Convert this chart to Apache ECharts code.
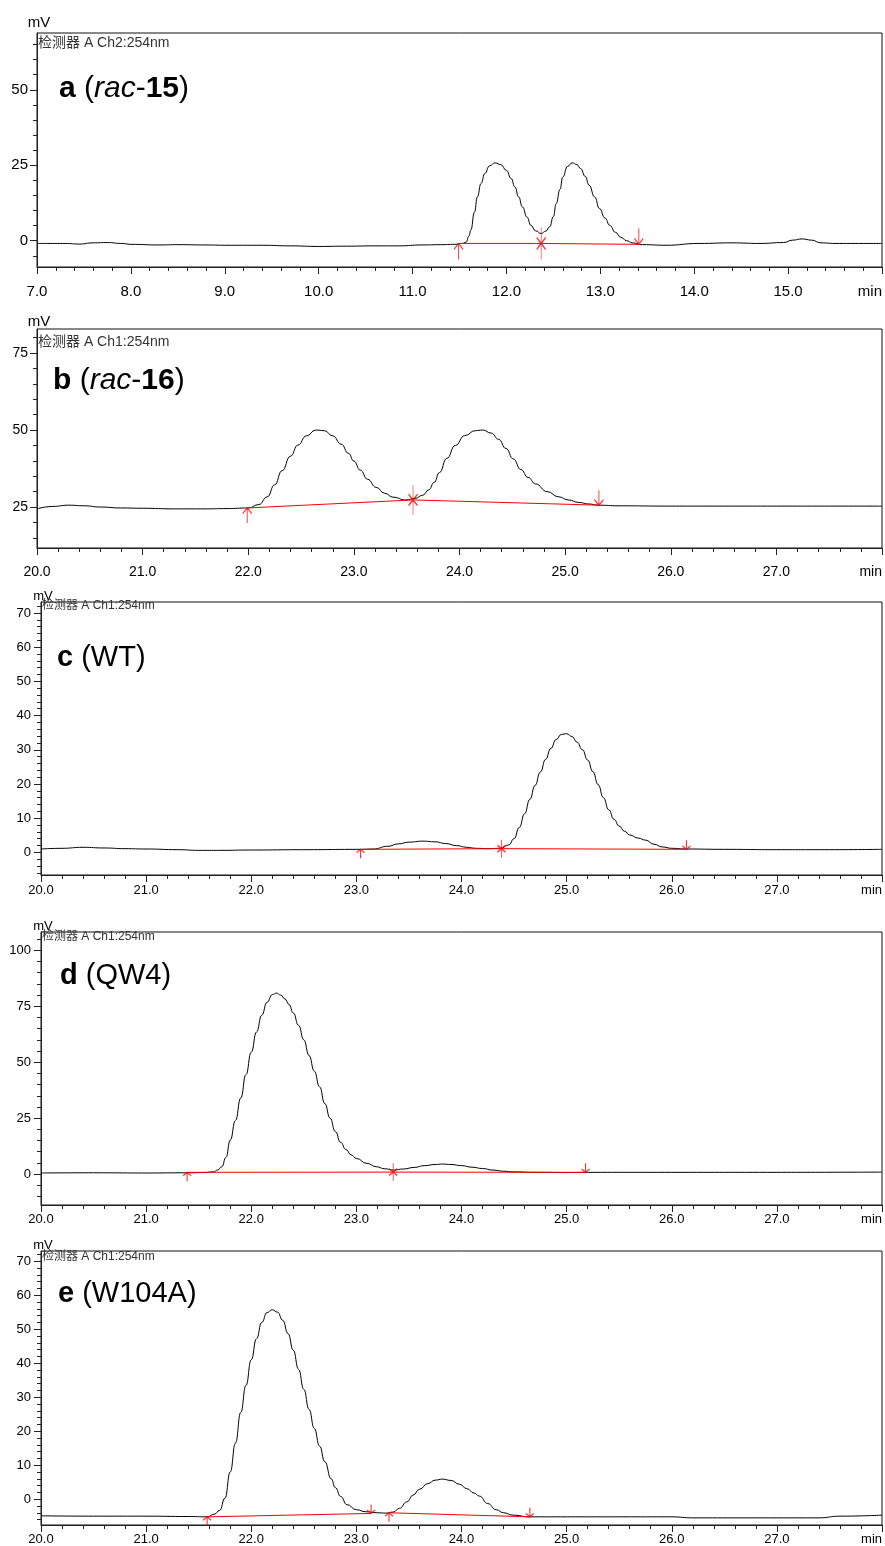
<!DOCTYPE html>
<html>
<head>
<meta charset="utf-8">
<title>HPLC chromatograms</title>
<script src="https://cdn.jsdelivr.net/npm/echarts@6/dist/echarts.min.js"></script>
<style>
  html, body { margin: 0; padding: 0; background: #fff; }
  #chart { width: 885px; height: 1546px; }
</style>
</head>
<body>
<div id="chart"></div>
<script>
// traces: [retention time (min), signal (mV)]
var traceA = [[7.0,-0.9],[7.3,-0.9],[7.45,-1.1],[7.6,-0.7],[7.75,-0.6],[7.9,-0.9],[8.0,-1.2],[8.3,-1.4],[8.5,-1.3],[8.8,-1.4],[9.0,-1.5],[9.4,-1.5],[9.7,-1.7],[10.0,-1.9],[10.3,-1.8],[10.6,-1.7],[10.86,-1.7],[11.1,-1.4],[11.3,-1.3],[11.45,-1.2],[11.53,-0.9],[11.57,-0.5],[11.6,1.5],[11.62,3.5],[11.66,9.5],[11.69,14.5],[11.73,19.0],[11.77,22.3],[11.82,24.8],[11.88,25.8],[11.94,25.2],[12.0,23.3],[12.05,20.6],[12.09,17.8],[12.13,14.5],[12.17,11.2],[12.22,7.8],[12.26,5.1],[12.31,3.3],[12.37,2.4],[12.42,3.2],[12.46,4.6],[12.5,8.0],[12.53,12.3],[12.57,17.0],[12.6,21.1],[12.65,24.6],[12.7,25.8],[12.75,25.2],[12.79,23.9],[12.84,21.3],[12.88,18.4],[12.94,14.5],[12.99,10.7],[13.05,7.5],[13.1,5.1],[13.16,2.8],[13.22,1.1],[13.28,0.0],[13.34,-0.7],[13.45,-1.3],[13.7,-1.5],[14.05,-0.9],[14.4,-0.7],[14.7,-0.9],[14.95,-0.6],[15.05,0.2],[15.15,0.6],[15.25,0.2],[15.35,-0.7],[15.5,-0.9],[15.8,-0.9],[16.0,-0.9]];
var traceB = [[20.0,24.4],[20.15,25.2],[20.3,25.6],[20.45,25.4],[20.6,25.0],[20.8,24.7],[21.0,24.6],[21.3,24.4],[21.6,24.4],[21.8,24.5],[22.0,24.7],[22.1,25.8],[22.18,28.3],[22.25,32.2],[22.32,36.8],[22.4,41.5],[22.47,45.1],[22.55,48.1],[22.64,50.0],[22.72,49.8],[22.8,48.1],[22.88,45.4],[22.95,42.4],[23.0,39.9],[23.06,37.0],[23.13,34.0],[23.21,31.4],[23.29,29.5],[23.37,28.2],[23.49,27.3],[23.58,27.8],[23.65,28.8],[23.71,30.6],[23.76,33.0],[23.81,36.2],[23.88,40.8],[23.96,45.0],[24.05,48.2],[24.15,49.8],[24.22,50.0],[24.3,49.0],[24.37,47.0],[24.44,44.0],[24.51,40.6],[24.58,37.2],[24.65,34.6],[24.72,32.5],[24.83,30.0],[24.94,28.3],[25.03,27.3],[25.13,26.5],[25.22,26.0],[25.32,25.6],[25.5,25.4],[26.0,25.3],[26.5,25.3],[27.0,25.3],[27.5,25.3],[28.0,25.3]];
var traceC = [[20.0,1.0],[20.2,1.2],[20.4,1.5],[20.6,1.3],[20.8,1.1],[21.0,1.0],[21.3,0.8],[21.5,0.6],[21.7,0.6],[22.0,0.7],[22.5,0.8],[23.05,0.9],[23.16,1.0],[23.3,1.8],[23.4,2.5],[23.5,3.0],[23.63,3.3],[23.75,3.1],[23.85,2.6],[23.95,2.0],[24.05,1.5],[24.14,1.2],[24.25,1.1],[24.37,1.2],[24.45,2.2],[24.5,4.0],[24.55,7.3],[24.6,11.3],[24.65,15.5],[24.7,19.6],[24.75,23.5],[24.8,27.2],[24.85,30.4],[24.9,33.0],[24.95,34.5],[25.0,34.7],[25.05,33.9],[25.1,32.2],[25.15,30.0],[25.2,27.0],[25.25,23.6],[25.3,19.8],[25.35,16.0],[25.4,12.5],[25.45,9.7],[25.5,7.7],[25.55,6.2],[25.6,5.1],[25.68,4.2],[25.75,3.6],[25.83,2.4],[25.91,1.6],[26.0,1.2],[26.14,1.0],[26.5,0.9],[27.0,0.8],[27.5,0.8],[28.0,0.9]];
var traceD = [[20.0,0.5],[20.5,0.6],[21.0,0.5],[21.4,0.6],[21.55,0.7],[21.64,1.0],[21.68,1.8],[21.72,3.3],[21.76,7.5],[21.8,15.2],[21.85,24.0],[21.9,34.0],[21.95,44.5],[22.0,54.5],[22.05,63.5],[22.1,71.0],[22.15,76.8],[22.2,80.2],[22.24,80.9],[22.28,80.0],[22.32,78.3],[22.36,75.8],[22.4,72.0],[22.45,66.5],[22.5,60.0],[22.55,53.0],[22.6,46.0],[22.65,39.0],[22.7,31.5],[22.75,25.0],[22.8,19.0],[22.85,14.2],[22.9,11.0],[22.95,8.6],[23.0,7.0],[23.1,4.8],[23.19,3.3],[23.27,2.4],[23.35,1.8],[23.45,2.3],[23.55,3.0],[23.65,3.8],[23.75,4.3],[23.82,4.5],[23.9,4.3],[24.0,3.8],[24.1,3.1],[24.2,2.5],[24.3,1.8],[24.4,1.3],[24.49,1.0],[24.7,0.8],[25.0,0.7],[25.2,0.8],[26.0,0.8],[27.0,0.8],[28.0,0.9]];
var traceE = [[20.0,-4.9],[20.5,-5.0],[21.0,-5.0],[21.4,-5.1],[21.58,-5.2],[21.65,-4.4],[21.7,-3.3],[21.75,0.3],[21.8,8.0],[21.85,16.5],[21.9,25.5],[21.95,33.5],[22.0,41.0],[22.05,47.2],[22.1,52.0],[22.15,54.9],[22.2,55.7],[22.25,55.0],[22.3,52.6],[22.35,48.7],[22.4,43.8],[22.45,38.2],[22.5,32.3],[22.55,26.4],[22.6,20.8],[22.65,15.6],[22.7,11.0],[22.76,6.0],[22.8,3.4],[22.85,0.8],[22.91,-1.6],[23.0,-3.1],[23.09,-3.7],[23.2,-4.0],[23.28,-4.1],[23.35,-3.8],[23.41,-2.7],[23.48,-0.8],[23.54,1.2],[23.6,2.9],[23.68,4.6],[23.75,5.6],[23.82,5.9],[23.9,5.5],[23.98,4.4],[24.05,3.1],[24.12,1.8],[24.17,0.9],[24.25,-1.3],[24.33,-3.1],[24.4,-4.0],[24.49,-4.7],[24.65,-5.2],[25.0,-5.2],[25.5,-5.2],[26.0,-5.2],[26.2,-5.5],[27.0,-5.5],[27.4,-5.5],[27.6,-5.0],[28.0,-4.7]];

// integration baselines (red) and peak start / end / valley marks
var baseA = [[11.49,-0.9],[12.37,-0.9],[13.41,-1.2]];
var baseB = [[21.99,24.7],[23.56,27.3],[25.32,25.6]];
var baseC = [[23.04,0.9],[24.38,1.1],[26.14,0.9]];
var baseD = [[21.39,0.8],[23.35,0.9],[25.18,0.8]];
var baseE1 = [[21.58,-5.2],[23.14,-4.2]];
var baseE2 = [[23.31,-4.0],[24.65,-5.2]];

var upA = [[11.49,-0.9]], bothA = [[12.37,-0.9]], downA = [[13.41,-1.2]];
var upB = [[21.99,24.7]], bothB = [[23.56,27.3]], downB = [[25.32,25.6]];
var upC = [[23.04,0.9]], bothC = [[24.38,1.1]], downC = [[26.14,0.9]];
var upD = [[21.39,0.8]], bothD = [[23.35,0.9]], downD = [[25.18,0.8]];
var upE = [[21.58,-5.2],[23.31,-4.0]], bothE = [], downE = [[23.14,-4.2],[24.65,-5.2]];

// y axis tick labels and minor ticks
var yMajorA = [0, 25, 50];
var yMinorA = [-5, 5, 10, 15, 20, 30, 35, 40, 45, 55, 60, 65];
var yMajorB = [25, 50, 75];
var yMinorB = [15, 20, 30, 35, 40, 45, 55, 60, 65, 70, 80];
var yMajorC = [0, 10, 20, 30, 40, 50, 60, 70];
var yMinorC = [-6,-4,-2,2,4,6,8,12,14,16,18,22,24,26,28,32,34,36,38,42,44,46,48,52,54,56,58,62,64,66,68,72];
var yMajorD = [0, 25, 50, 75, 100];
var yMinorD = [-10, -5, 5, 10, 15, 20, 30, 35, 40, 45, 55, 60, 65, 70, 80, 85, 90, 95, 105];
var yMajorE = yMajorC;
var yMinorE = yMinorC;

var FONT_NARROW = "'Liberation Sans Narrow', 'Liberation Sans', Arial, sans-serif";
var FONT_WIDE = "'Liberation Sans', Arial, sans-serif";
var CJK = "'Noto Sans CJK SC'";

var ARROW_UP = 'path://M5,0 L5,16 M0,6 L5,0 L10,6';
var ARROW_DOWN = 'path://M5,0 L5,16 M0,10 L5,16 L10,10';
var ARROW_BOTH = 'path://M5,0 L5,32 M0,10 L5,16 L10,10 M0,22 L5,16 L10,22';

var panels = [
    { trace: traceA, bases: [baseA], up: upA, down: downA, both: bothA,
      xMin: 7, xMax: 16, yMin: -8.7, yMax: 68.8, yMajor: yMajorA, yMinor: yMinorA,
      left: 37, top: 33, height: 234, narrow: true, tickFont: 15, xMargin: 17, yMargin: 9,
      channel: '检测器 A Ch2:254nm', chan: [38, 43], tag: '{b|a} ({i|rac}-{b|15})', tagPos: [59, 89],
      unit: [39, 23], arrow: [9, 16] },
    { trace: traceB, bases: [baseB], up: upB, down: downB, both: bothB,
      xMin: 20, xMax: 28, yMin: 11.7, yMax: 82.8, yMajor: yMajorB, yMinor: yMinorB,
      left: 37, top: 329, height: 219, narrow: true, tickFont: 14, xMargin: 17, yMargin: 9,
      channel: '检测器 A Ch1:254nm', chan: [38, 342], tag: '{b|b} ({i|rac}-{b|16})', tagPos: [53, 381],
      unit: [39, 322], arrow: [9, 15] },
    { trace: traceC, bases: [baseC], up: upC, down: downC, both: bothC,
      xMin: 20, xMax: 28, yMin: -6.6, yMax: 73.2, yMajor: yMajorC, yMinor: yMinorC,
      left: 41, top: 602, height: 273, narrow: false, tickFont: 13, xMargin: 9, yMargin: 10,
      channel: '检测器 A Ch1:254nm', chan: [42, 606], tag: '{b|c} (WT)', tagPos: [57, 658],
      unit: [43, 596], arrow: [8, 9] },
    { trace: traceD, bases: [baseD], up: upD, down: downD, both: bothD,
      xMin: 20, xMax: 28, yMin: -13.8, yMax: 108.2, yMajor: yMajorD, yMinor: yMinorD,
      left: 41, top: 932, height: 273, narrow: false, tickFont: 13, xMargin: 8, yMargin: 10,
      channel: '检测器 A Ch1:254nm', chan: [42, 937], tag: '{b|d} (QW4)', tagPos: [60, 976],
      unit: [43, 926], arrow: [8, 9] },
    { trace: traceE, bases: [baseE1, baseE2], up: upE, down: downE, both: bothE,
      xMin: 20, xMax: 28, yMin: -7.6, yMax: 73.0, yMajor: yMajorE, yMinor: yMinorE,
      left: 41, top: 1251, height: 274, narrow: false, tickFont: 13, xMargin: 8, yMargin: 10,
      channel: '检测器 A Ch1:254nm', chan: [42, 1257], tag: '{b|e} (W104A)', tagPos: [58, 1294],
      unit: [43, 1245], arrow: [8, 9] }
];

var grids = [], xAxes = [], yAxes = [], series = [], graphics = [];

panels.forEach(function (p, i) {
    var font = p.narrow ? FONT_NARROW : FONT_WIDE;
    var redMark = { color: 'rgba(0,0,0,0)', borderColor: '#ff0000', borderWidth: 1.2 };

    grids.push({
        left: p.left, right: 2, top: p.top, height: p.height,
        show: true, borderColor: '#111', borderWidth: 1
    });

    xAxes.push({
        type: 'value', gridIndex: i, min: p.xMin, max: p.xMax, interval: 1,
        axisLine: { onZero: false, lineStyle: { color: '#222' } },
        axisTick: { length: 7, lineStyle: { color: '#222' } },
        minorTick: { show: true, splitNumber: 5, length: 4, lineStyle: { color: '#222' } },
        splitLine: { show: false },
        axisLabel: {
            margin: p.xMargin, color: '#000', fontFamily: font, fontSize: p.tickFont,
            showMinLabel: true, showMaxLabel: true, alignMaxLabel: 'right',
            formatter: function (v) { return v === p.xMax ? 'min' : v.toFixed(1); }
        }
    });

    // labelled major ticks
    yAxes.push({
        type: 'value', gridIndex: i, position: 'left', min: p.yMin, max: p.yMax,
        axisLine: { show: true, onZero: false, lineStyle: { color: '#222' } },
        axisTick: { show: true, length: 7, customValues: p.yMajor, lineStyle: { color: '#222' } },
        axisLabel: { customValues: p.yMajor, margin: p.yMargin, color: '#000', fontFamily: font, fontSize: p.tickFont },
        splitLine: { show: false }
    });
    // minor ticks only
    yAxes.push({
        type: 'value', gridIndex: i, position: 'left', min: p.yMin, max: p.yMax,
        axisLine: { show: false },
        axisTick: { show: true, length: 4, customValues: p.yMinor, lineStyle: { color: '#222' } },
        axisLabel: { show: false },
        splitLine: { show: false }
    });

    series.push({
        type: 'line', xAxisIndex: i, yAxisIndex: 2 * i, data: p.trace,
        symbol: 'none', smooth: 0.5, smoothMonotone: 'x',
        lineStyle: { color: '#000', width: 1 }, silent: true, z: 2
    });
    p.bases.forEach(function (b) {
        series.push({
            type: 'line', xAxisIndex: i, yAxisIndex: 2 * i, data: b,
            symbol: 'none', lineStyle: { color: '#ff0000', width: 1 }, silent: true, z: 3
        });
    });
    series.push({
        type: 'scatter', xAxisIndex: i, yAxisIndex: 2 * i, data: p.up,
        symbol: ARROW_UP, symbolSize: p.arrow, symbolOffset: [0, '50%'],
        itemStyle: redMark, silent: true, z: 4
    });
    series.push({
        type: 'scatter', xAxisIndex: i, yAxisIndex: 2 * i, data: p.down,
        symbol: ARROW_DOWN, symbolSize: p.arrow, symbolOffset: [0, '-50%'],
        itemStyle: redMark, silent: true, z: 4
    });
    series.push({
        type: 'scatter', xAxisIndex: i, yAxisIndex: 2 * i, data: p.both,
        symbol: ARROW_BOTH, symbolSize: [p.arrow[0], p.arrow[1] * 2],
        itemStyle: redMark, silent: true, z: 4
    });

    graphics.push({
        type: 'text', x: p.unit[0], y: p.unit[1], silent: true,
        style: { text: 'mV', fill: '#000', fontFamily: font, fontSize: p.narrow ? 15 : 13, align: 'center', verticalAlign: 'middle' }
    });
    graphics.push({
        type: 'text', x: p.chan[0], y: p.chan[1], silent: true,
        style: {
            text: p.channel, fill: '#333', fontFamily: font + ', ' + CJK,
            fontSize: p.narrow ? 14 : 12, align: 'left', verticalAlign: 'middle'
        }
    });
    var big = p.narrow ? 30 : 29;
    graphics.push({
        type: 'text', x: p.tagPos[0], y: p.tagPos[1], silent: true,
        style: {
            text: p.tag, fill: '#000', fontFamily: FONT_WIDE, fontSize: big,
            align: 'left', verticalAlign: 'middle',
            rich: {
                b: { fontWeight: 'bold', fontSize: big, fontFamily: FONT_WIDE, fill: '#000' },
                i: { fontStyle: 'italic', fontSize: big, fontFamily: FONT_WIDE, fill: '#000' }
            }
        }
    });
});

var chart = echarts.init(document.getElementById('chart'));
chart.setOption({
    animation: false,
    backgroundColor: '#fff',
    grid: grids,
    xAxis: xAxes,
    yAxis: yAxes,
    series: series,
    graphic: graphics
});
window.addEventListener('resize', chart.resize);
</script>
</body>
</html>
